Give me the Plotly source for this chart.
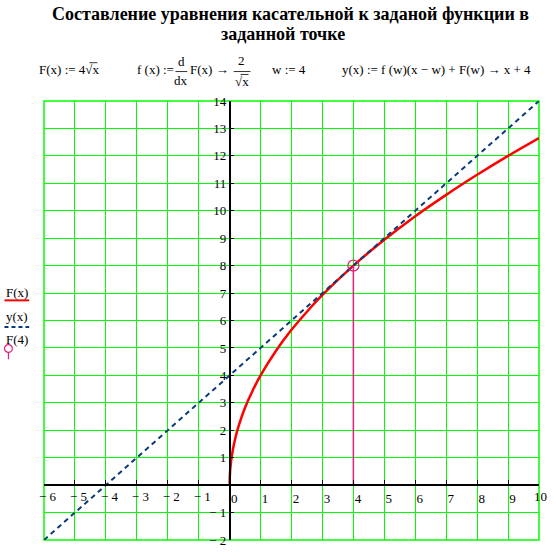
import plotly.graph_objects as go

# ---------------- data ----------------
x_F = [0, 0.005, 0.01, 0.02, 0.05, 0.1, 0.2, 0.3, 0.5, 0.75, 1, 1.5, 2, 2.5, 3, 4, 5, 6, 7, 8, 9, 10]
y_F = [0, 0.28, 0.40, 0.57, 0.89, 1.26, 1.79, 2.19, 2.83, 3.46, 4.00, 4.90, 5.66, 6.32, 6.93,
       8.00, 8.94, 9.80, 10.58, 11.31, 12.00, 12.65]
x_tan = [-6, 10]
y_tan = [-2, 14]
w_point = [4]
Fw_point = [8]

x_pos_ticks = [0, 1, 2, 3, 4, 5, 6, 7, 8, 9]
x_edge_ticks = [-6, -5, -4, -3, -2, -1, 10]
x_edge_text = ["− 6", "− 5", "− 4", "− 3", "− 2", "− 1", "10"]
y_ticks = [-2, -1, 0, 1, 2, 3, 4, 5, 6, 7, 8, 9, 10, 11, 12, 13, 14]
y_text = ["− 2", "− 1", "", "1", "2", "3", "4", "5", "6", "7", "8", "9", "10", "11", "12", "13", "14"]

title_line1 = "<b>Составление уравнения касательной к заданой функции в</b>"
title_line2 = "<b>заданной точке</b>"

# ---------------- geometry helpers (pixel -> paper) ----------------
W, H = 556, 557
L, R, T, B = 44, 11, 101, 9
PW, PH = W - L - R, H - T - B


def px(x):
    return (x - L) / PW


def py(y):
    return (H - B - y) / PH


SERIF = "Liberation Serif"
GREEN = "#00ff00"
RED = "#ff0000"
NAVY = "#0a3a78"
MAG = "#e0207a"

fig = go.Figure()

fig.add_trace(go.Scatter(x=x_F, y=y_F, mode="lines", line=dict(color=RED, width=2.5, shape="spline"),
                         showlegend=False, hoverinfo="skip"))
fig.add_trace(go.Scatter(x=x_tan, y=y_tan, mode="lines", line=dict(color=NAVY, width=2, dash="5px,4px"),
                         showlegend=False, hoverinfo="skip"))
fig.add_trace(go.Scatter(x=[w_point[0], w_point[0]], y=[0, Fw_point[0]], mode="lines",
                         line=dict(color=MAG, width=1.5), showlegend=False, hoverinfo="skip"))
fig.add_trace(go.Scatter(x=w_point, y=Fw_point, mode="markers",
                         marker=dict(symbol="circle-open", size=11, color=MAG, line=dict(width=1.3)),
                         showlegend=False, hoverinfo="skip"))
# invisible trace to activate xaxis2
fig.add_trace(go.Scatter(x=[None], y=[None], xaxis="x2", yaxis="y", showlegend=False, hoverinfo="skip"))

tickfont = dict(family=SERIF, size=13, color="black")

fig.update_layout(
    width=W, height=H,
    margin=dict(l=L, r=R, t=T, b=B),
    paper_bgcolor="white", plot_bgcolor="white",
    xaxis=dict(range=[-6, 10], domain=[0, 1], anchor="free", position=2 / 16,
               tickvals=x_edge_ticks + x_pos_ticks,
               ticktext=[""] * len(x_edge_ticks) + [str(v) for v in x_pos_ticks],
               showgrid=True, gridcolor=GREEN, gridwidth=1, zeroline=False,
               showline=True, linecolor="black", linewidth=1.5,
               ticks="inside", ticklen=4, tickcolor="black",
               ticklabelposition="outside right", ticklabelshift=0, ticklabelstandoff=2,
               tickfont=tickfont, fixedrange=True),
    xaxis2=dict(range=[-6, 10], overlaying="x", matches="x", anchor="free", position=2 / 16,
                tickvals=x_edge_ticks, ticktext=x_edge_text,
                showgrid=False, zeroline=False, showline=False,
                ticks="", ticklabelposition="outside right", ticklabelshift=-5, ticklabelstandoff=2,
                tickfont=tickfont, fixedrange=True),
    yaxis=dict(range=[-2, 14], domain=[0, 1], anchor="free", position=6 / 16,
               tickvals=y_ticks, ticktext=y_text,
               showgrid=True, gridcolor=GREEN, gridwidth=1, zeroline=False,
               showline=True, linecolor="black", linewidth=1.5,
               ticks="inside", ticklen=4, tickcolor="black", ticklabelstandoff=0,
               tickfont=tickfont, fixedrange=True),
)

shapes = []
annots = []

# green frame
shapes.append(dict(type="rect", xref="paper", yref="paper", x0=0, x1=1, y0=0, y1=1,
                   line=dict(color=GREEN, width=1.5), layer="below"))


def text(t, x, y, xanchor="left", size=13):
    annots.append(dict(text=t, xref="paper", yref="paper", x=px(x), y=py(y), xanchor=xanchor,
                       yanchor="middle", showarrow=False, font=dict(family=SERIF, size=size, color="black")))


def hline(x0, x1, y, color="black", width=1, dash=None):
    ln = dict(color=color, width=width)
    if dash:
        ln["dash"] = dash
    shapes.append(dict(type="line", xref="paper", yref="paper", x0=px(x0), x1=px(x1), y0=py(y), y1=py(y), line=ln))


# title
text(title_line1, 293, 12, xanchor="center", size=18)
text(title_line2, 286, 33, xanchor="center", size=18)

# formula row
text("F(x) := 4√x", 37, 69)
hline(90, 98, 62, width=0.8)
text("f (x) :=", 136, 69)
text("d", 183, 61, xanchor="center")
hline(177, 189, 71, width=0.8)
text("dx", 183, 80, xanchor="center")
text("F(x) →", 190, 69)
text("2", 244, 60, xanchor="center")
hline(236, 253, 71, width=0.8)
text("√x", 244, 81, xanchor="center")
hline(243, 251, 74, width=0.8)
text("w := 4", 273, 69)
text("y(x) := f (w)(x − w) + F(w) → x + 4", 344, 69)

# legend (left side)
text("F(x)", 4, 296)
hline(4, 29, 304, color=RED, width=2)
text("y(x)", 4, 320)
hline(4, 29, 331, color=NAVY, width=2, dash="4px,3px")
text("F(4)", 4, 344)
shapes.append(dict(type="circle", xref="paper", yref="paper", x0=px(4), x1=px(12), y0=py(349), y1=py(357),
                   line=dict(color=MAG, width=1.2)))
shapes.append(dict(type="line", xref="paper", yref="paper", x0=px(8), x1=px(8), y0=py(357), y1=py(364),
                   line=dict(color=MAG, width=1.2)))

fig.update_layout(shapes=shapes, annotations=annots)

fig.write_html(
    "out.html", config={"displayModeBar": False},
    post_script="document.body.style.margin='0';document.body.style.padding='0';",
)
